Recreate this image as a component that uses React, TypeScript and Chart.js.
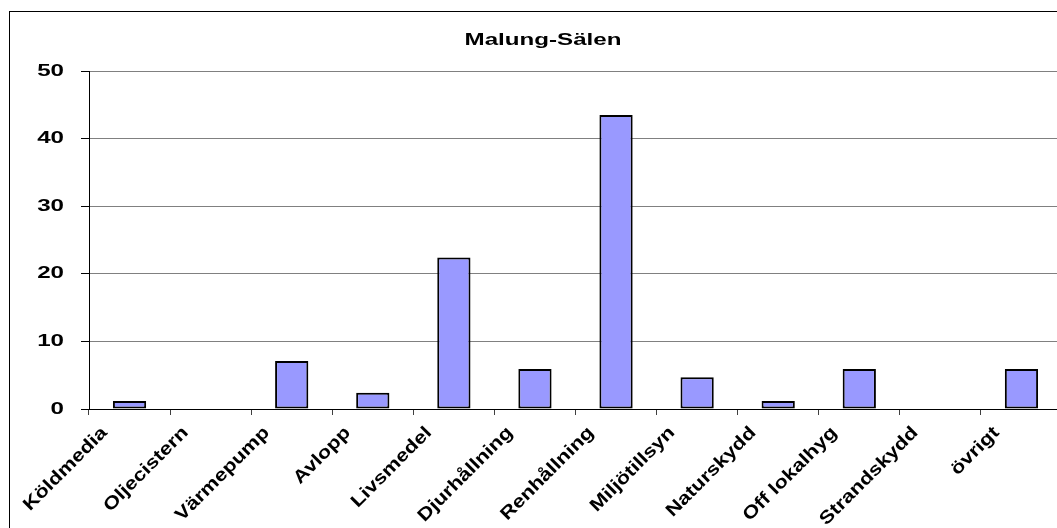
import React, { useEffect, useRef } from "react";
import { Chart, registerables } from "chart.js";

Chart.register(...registerables);

const chartTitle = "Malung-Sälen";
const categories = [
  "Köldmedia",
  "Oljecistern",
  "Värmepump",
  "Avlopp",
  "Livsmedel",
  "Djurhållning",
  "Renhållning",
  "Miljötillsyn",
  "Naturskydd",
  "Off lokalhyg",
  "Strandskydd",
  "övrigt",
];
const values = [1.2, 0, 7.1, 2.4, 22.4, 5.9, 43.5, 4.7, 1.2, 5.9, 0, 5.9];
const yTicks = [0, 10, 20, 30, 40, 50];

const FONT = '"Liberation Sans", Arial, sans-serif';
const STRETCH = 1.42;
const XSTRETCH = 1.2;

const stretchTextPlugin = {
  id: "stretchText",
  afterDraw(chart: any) {
    const ctx = chart.ctx;
    const xs = chart.scales.x;
    const ys = chart.scales.y;
    const ca = chart.chartArea;
    ctx.save();
    ctx.fillStyle = "#000";

    // title
    ctx.font = `bold 17px ${FONT}`;
    ctx.textAlign = "center";
    ctx.textBaseline = "alphabetic";
    ctx.save();
    ctx.translate(chart.width / 2, 33);
    ctx.scale(STRETCH, 1);
    ctx.fillText(chartTitle, 0, 0);
    ctx.restore();

    // y tick labels
    ctx.font = `bold 17px ${FONT}`;
    ctx.textAlign = "right";
    ctx.textBaseline = "middle";
    yTicks.forEach((v) => {
      const py = ys.getPixelForValue(v);
      ctx.save();
      ctx.translate(ca.left - 25, py);
      ctx.scale(STRETCH, 1);
      ctx.fillText(String(v), 0, 0);
      ctx.restore();
    });

    // x category labels
    ctx.font = `bold 18px ${FONT}`;
    ctx.textAlign = "right";
    ctx.textBaseline = "middle";
    categories.forEach((c, i) => {
      const px = xs.getPixelForValue(i);
      ctx.save();
      ctx.translate(px - 25, ca.bottom + 21);
      ctx.rotate(-Math.PI / 4);
      ctx.scale(XSTRETCH, 1);
      ctx.fillText(c, 0, 0);
      ctx.restore();
    });
    ctx.restore();
  },
};

export default function App() {
  const canvasRef = useRef<HTMLCanvasElement | null>(null);

  useEffect(() => {
    document.documentElement.style.overflow = "hidden";
    document.body.style.overflow = "hidden";
    const canvas = canvasRef.current;
    if (!canvas) return;
    const chart = new Chart(canvas, {
      type: "bar",
      data: {
        labels: categories,
        datasets: [
          {
            data: values,
            backgroundColor: "#9999FF",
            borderColor: "#000000",
            borderWidth: 2,
            borderSkipped: false,
            categoryPercentage: 1,
            barPercentage: 0.41,
          },
        ],
      },
      options: {
        responsive: false,
        animation: false,
        devicePixelRatio: 1,
        layout: { padding: { top: 59, right: 14, left: 0, bottom: 0 } },
        plugins: {
          legend: { display: false },
          title: { display: false },
          tooltip: { enabled: false },
        },
        scales: {
          x: {
            type: "category",
            offset: true,
            ticks: { display: false },
            grid: {
              display: true,
              offset: true,
              drawOnChartArea: false,
              drawTicks: true,
              tickLength: 6,
              color: "#404040",
              lineWidth: 1,
            },
            border: { display: true, color: "#000000", width: 1 },
            afterFit: (scale: any) => {
              scale.height = 133;
            },
          },
          y: {
            type: "linear",
            min: 0,
            max: 50,
            ticks: { display: false, stepSize: 10 },
            grid: {
              color: "#808080",
              lineWidth: 1,
              drawTicks: true,
              tickLength: 8,
              tickColor: "#000000",
            },
            border: { display: true, color: "#000000", width: 1 },
            afterFit: (scale: any) => {
              scale.width = 79;
            },
          },
        },
      },
      plugins: [stretchTextPlugin],
    });
    return () => chart.destroy();
  }, []);

  return (
    <div
      style={{
        position: "fixed",
        left: 0,
        top: 0,
        width: "100vw",
        height: "100vh",
        overflow: "hidden",
        background: "#fff",
      }}
    >
      <div
        style={{
          position: "absolute",
          left: 9,
          top: 11,
          width: 1066,
          height: 530,
          border: "1px solid #000",
        }}
      >
        <canvas
          ref={canvasRef}
          width={1066}
          height={530}
          style={{ display: "block", width: 1066, height: 530 }}
        />
      </div>
    </div>
  );
}
